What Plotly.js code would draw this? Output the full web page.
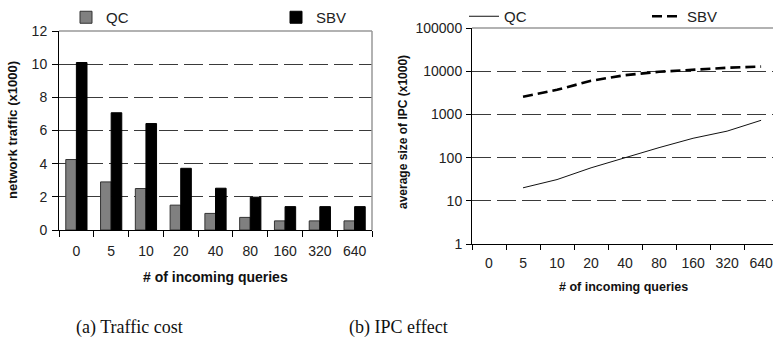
<!DOCTYPE html>
<html>
<head>
<meta charset="utf-8">
<script src="https://cdn.plot.ly/plotly-3.0.1.min.js"></script>
<style>html,body{margin:0;padding:0;background:#fff;}#chart{width:773px;height:349px;}</style>
</head>
<body>
<div id="chart"></div>
<script>
// Data
var categories = ["0", "5", "10", "20", "40", "80", "160", "320", "640"];
var trafficQC  = [4.25, 2.9, 2.5, 1.5, 1.0, 0.76, 0.55, 0.55, 0.55];
var trafficSBV = [10.1, 7.07, 6.42, 3.72, 2.52, 1.98, 1.41, 1.41, 1.41];
var ipcQC  = [null, 20, 31, 58, 100, 170, 280, 410, 730];
var ipcSBV = [null, 2550, 3700, 6000, 8100, 9700, 11000, 12000, 12800];
var seriesNames = ["QC", "SBV"];
var leftYTitle = "network traffic (x1000)";
var rightYTitle = "average size of IPC (x1000)";
var xTitle = "# of incoming queries";
var captionA = "(a) Traffic cost";
var captionB = "(b) IPC effect";

var W = 773, H = 349;
function px(x){ return x / W; }
function py(y){ return 1 - y / H; }

var sans = "Liberation Sans, Arial, sans-serif";
var tickFont = {family: sans, size: 14, color: "#222"};

var traces = [
  {type: "bar", x: categories, y: trafficQC, name: seriesNames[0], xaxis: "x", yaxis: "y",
   marker: {color: "#808080", line: {color: "#333", width: 1}}, legend: "legend"},
  {type: "bar", x: categories, y: trafficSBV, name: seriesNames[1], xaxis: "x", yaxis: "y",
   marker: {color: "#000", line: {color: "#000", width: 1}}, legend: "legend"},
  {type: "scatter", mode: "lines", x: categories, y: ipcQC, name: seriesNames[0], xaxis: "x2", yaxis: "y2",
   line: {color: "#111", width: 1}, legend: "legend2"},
  {type: "scatter", mode: "lines", x: categories, y: ipcSBV, name: seriesNames[1], xaxis: "x2", yaxis: "y2",
   line: {color: "#000", width: 2.6, dash: "10px,5px"}, legend: "legend2"}
];

var gridDash = "19px,6px";

var layout = {
  width: W, height: H,
  margin: {l: 0, r: 0, t: 0, b: 0, autoexpand: false},
  paper_bgcolor: "#fff", plot_bgcolor: "#fff",
  showlegend: true,
  barmode: "group", bargap: 0.39, bargroupgap: 0,
  font: {family: sans, color: "#222"},
  xaxis: {
    domain: [px(59), px(372)], anchor: "y", type: "category", tickangle: 0,
    tickson: "boundaries", ticks: "outside", ticklen: 6, tickcolor: "#000", tickwidth: 1,
    showline: true, linecolor: "#000", linewidth: 1, showgrid: false, zeroline: false,
    tickfont: tickFont, ticklabelstandoff: 8, fixedrange: true
  },
  yaxis: {
    domain: [py(230), py(31)], anchor: "x", range: [0, 12], dtick: 2,
    ticks: "outside", ticklen: 6, tickcolor: "#000", tickwidth: 1,
    showline: true, linecolor: "#000", linewidth: 1,
    showgrid: true, gridcolor: "#3a3a3a", gridwidth: 1.3, griddash: gridDash,
    zeroline: false, tickfont: tickFont, ticklabelstandoff: 2, fixedrange: true
  },
  xaxis2: {
    domain: [px(472), 1], anchor: "y2", type: "category", range: [-0.5, 8.35], tickangle: 0,
    tickson: "boundaries", ticks: "outside", ticklen: 5, tickcolor: "#000", tickwidth: 1,
    showline: true, linecolor: "#000", linewidth: 1, showgrid: false, zeroline: false,
    tickfont: tickFont, ticklabelstandoff: 6, fixedrange: true
  },
  yaxis2: {
    domain: [py(244), py(28)], anchor: "x2", type: "log", range: [0, 5], dtick: 1,
    tickformat: "d",
    ticks: "outside", ticklen: 5, tickcolor: "#000", tickwidth: 1,
    showline: true, linecolor: "#000", linewidth: 1,
    showgrid: true, gridcolor: "#3a3a3a", gridwidth: 1.3, griddash: gridDash,
    zeroline: false, tickfont: tickFont, ticklabelstandoff: 1, fixedrange: true
  },
  legend: {
    orientation: "h", x: px(66), y: py(1), xanchor: "left", yanchor: "top",
    font: {family: sans, size: 15, color: "#222"}, bgcolor: "rgba(0,0,0,0)",
    entrywidth: 165, entrywidthmode: "pixels", itemclick: false, itemdoubleclick: false
  },
  legend2: {
    orientation: "h", x: px(464), y: py(0), xanchor: "left", yanchor: "top",
    font: {family: sans, size: 15, color: "#222"}, bgcolor: "rgba(0,0,0,0)",
    entrywidth: 138, entrywidthmode: "pixels", itemclick: false, itemdoubleclick: false
  },
  shapes: [
    {type: "line", xref: "x domain", yref: "y domain", x0: 0, x1: 1, y0: 1, y1: 1, line: {color: "#999", width: 1.5}},
    {type: "line", xref: "x domain", yref: "y domain", x0: 1, x1: 1, y0: 0, y1: 1, line: {color: "#999", width: 1.5}},
    {type: "line", xref: "x2 domain", yref: "y2 domain", x0: 0, x1: 1, y0: 1, y1: 1, line: {color: "#999", width: 1.5}}
  ],
  annotations: [
    {text: "<b>" + leftYTitle + "</b>", xref: "paper", yref: "paper", x: px(13), y: py(130), textangle: -90,
     showarrow: false, font: {family: sans, size: 13, color: "#111"}, xanchor: "center", yanchor: "middle"},
    {text: "<b>" + xTitle + "</b>", xref: "paper", yref: "paper", x: px(215), y: py(277),
     showarrow: false, font: {family: sans, size: 14, color: "#111"}, xanchor: "center", yanchor: "middle"},
    {text: "<b>" + rightYTitle + "</b>", xref: "paper", yref: "paper", x: px(403), y: py(132), textangle: -90,
     showarrow: false, font: {family: sans, size: 12, color: "#111"}, xanchor: "center", yanchor: "middle"},
    {text: "<b>" + xTitle + "</b>", xref: "paper", yref: "paper", x: px(623), y: py(287),
     showarrow: false, font: {family: sans, size: 12.5, color: "#111"}, xanchor: "center", yanchor: "middle"},
    {text: captionA, xref: "paper", yref: "paper", x: px(129), y: py(327),
     showarrow: false, font: {family: "Liberation Serif, Times New Roman, serif", size: 18, color: "#111"}, xanchor: "center", yanchor: "middle"},
    {text: captionB, xref: "paper", yref: "paper", x: px(398), y: py(327),
     showarrow: false, font: {family: "Liberation Serif, Times New Roman, serif", size: 18, color: "#111"}, xanchor: "center", yanchor: "middle"}
  ]
};

Plotly.newPlot("chart", traces, layout, {displayModeBar: false, staticPlot: true});
</script>
</body>
</html>
